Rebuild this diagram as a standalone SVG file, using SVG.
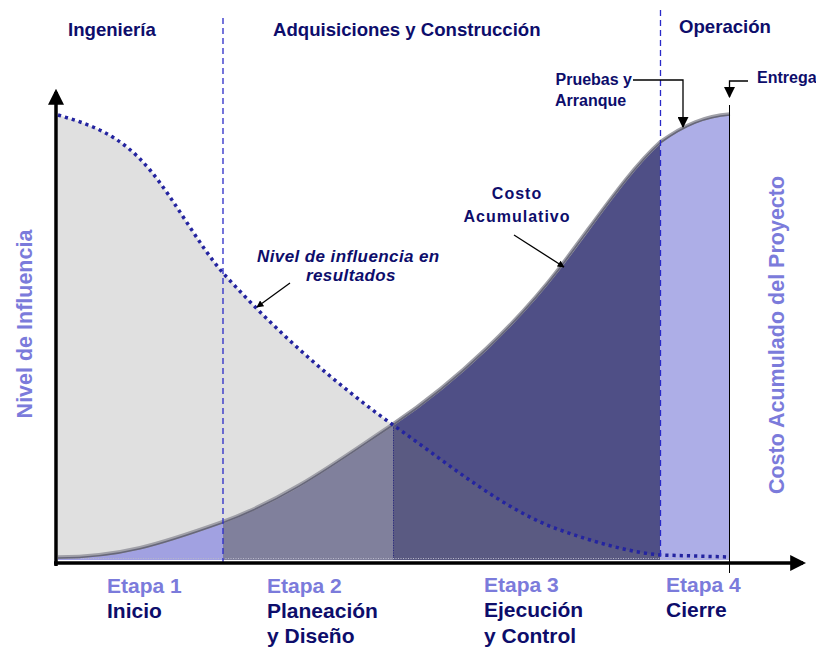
<svg xmlns="http://www.w3.org/2000/svg" width="816" height="650" viewBox="0 0 816 650">
<style>
.t{font-family:"Liberation Sans",Arial,sans-serif;font-weight:bold;fill:#0d0d6b}
.hd{font-size:18.6px}
.sm{font-size:16px}
.st{font-size:21px;fill:#7b7bdb}
.nm{font-size:21px}
.ax{font-size:21.5px;fill:#7b7bdb}
.dash{stroke:#2a2ac8;stroke-width:1.3;stroke-dasharray:6 4;fill:none}
.ln{stroke:#000;stroke-width:1.3;fill:none}
</style>
<defs>
<marker id="ah" viewBox="0 0 10 10" refX="9" refY="5" markerWidth="7" markerHeight="7" markerUnits="userSpaceOnUse" orient="auto"><path d="M0,0 L10,5 L0,10 Z" fill="#000"/></marker>
<marker id="ab" viewBox="0 0 10 10" refX="9" refY="5" markerWidth="11" markerHeight="11" markerUnits="userSpaceOnUse" orient="auto"><path d="M0,0 L10,5 L0,10 Z" fill="#000"/></marker>
<marker id="ax" viewBox="0 0 10 10" refX="8" refY="5" markerWidth="16" markerHeight="16" markerUnits="userSpaceOnUse" orient="auto"><path d="M0,0 L10,5 L0,10 Z" fill="#000"/></marker>
<clipPath id="c1"><rect x="56" y="0" width="167" height="562"/></clipPath>
<clipPath id="c2"><rect x="223" y="0" width="170" height="562"/></clipPath>
<clipPath id="c3"><rect x="393" y="0" width="267" height="562"/></clipPath>
<clipPath id="c4"><rect x="660" y="0" width="70" height="562"/></clipPath>
</defs>

<g id="areas">
<path d="M58,115 C88.7,124.2 119.3,133.2 150,170 C174.3,199.2 198.7,245 223,273 C279.7,335.4 336.3,384.2 393,425 C448.7,464 504.3,510.5 560,530 C593.3,541.7 626.7,551.7 660,555 L730,557 L730,560 L58,560 Z" fill="#e0e0e0"/>
<g id="costArea">
<path clip-path="url(#c1)" d="M58,558 C120,558 160,545 222,523 C290,498 340,460 393,425 C460,380 520,320 560,268 C600,215 630,170 660,143 C685,125 705,117 730,115 L730,560 L58,560 Z" fill="#a1a1e1"/>
<path clip-path="url(#c2)" d="M58,558 C120,558 160,545 222,523 C290,498 340,460 393,425 C460,380 520,320 560,268 C600,215 630,170 660,143 C685,125 705,117 730,115 L730,560 L58,560 Z" fill="#80809c"/>
<path clip-path="url(#c3)" d="M58,558 C120,558 160,545 222,523 C290,498 340,460 393,425 C460,380 520,320 560,268 C600,215 630,170 660,143 C685,125 705,117 730,115 L730,560 L58,560 Z" fill="#4f4f86"/>
<path clip-path="url(#c3)" d="M58,115 C88.7,124.2 119.3,133.2 150,170 C174.3,199.2 198.7,245 223,273 C279.7,335.4 336.3,384.2 393,425 C448.7,464 504.3,510.5 560,530 C593.3,541.7 626.7,551.7 660,555 L730,557 L730,560 L58,560 Z" fill="#5a5a82"/>
<path clip-path="url(#c4)" d="M58,558 C120,558 160,545 222,523 C290,498 340,460 393,425 C460,380 520,320 560,268 C600,215 630,170 660,143 C685,125 705,117 730,115 L730,560 L58,560 Z" fill="#adaee7"/>
</g>
<line x1="393.5" y1="425" x2="393.5" y2="560" stroke="#2a2a80" stroke-width="1" stroke-dasharray="1 1.5"/>
<line x1="58" y1="558.5" x2="730" y2="558.5" stroke="#b8b8c8" stroke-width="1" stroke-dasharray="1 1.5"/>
</g>

<g id="connectors">
<path d="M58,558 C120,558 160,545 222,523 C290,498 340,460 393,425 C460,380 520,320 560,268 C600,215 630,170 660,143 C685,125 705,117 730,115" fill="none" stroke="#a0a0a8" stroke-width="3.5" transform="translate(0,-1)"/>
<path d="M58,558 C120,558 160,545 222,523 C290,498 340,460 393,425 C460,380 520,320 560,268 C600,215 630,170 660,143 C685,125 705,117 730,115" fill="none" stroke="#66667a" stroke-width="1.6"/>
<path d="M58,115 C88.7,124.2 119.3,133.2 150,170 C174.3,199.2 198.7,245 223,273 C279.7,335.4 336.3,384.2 393,425 C448.7,464 504.3,510.5 560,530 C593.3,541.7 626.7,551.7 660,555 L730,557" fill="none" stroke="#2424a0" stroke-width="3.5" stroke-dasharray="3.2 4"/>
<line class="dash" x1="223" y1="18" x2="223" y2="568"/>
<line class="dash" x1="660.5" y1="10" x2="660.5" y2="560"/>
<line x1="729.5" y1="105" x2="729.5" y2="573" stroke="#000" stroke-width="1"/>
<line x1="56" y1="566" x2="56" y2="92" stroke="#000" stroke-width="3.5" marker-end="url(#ax)"/>
<line x1="54" y1="563" x2="803" y2="563" stroke="#000" stroke-width="3.5" marker-end="url(#ax)"/>
<polyline class="ln" points="633,80 683,80 683,127" marker-end="url(#ab)"/>
<polyline class="ln" points="748,81 729.5,81 729.5,97" marker-end="url(#ab)"/>
<line class="ln" x1="290" y1="283" x2="257" y2="307" marker-end="url(#ah)"/>
<line class="ln" x1="514" y1="235" x2="564" y2="267" marker-end="url(#ah)"/>
</g>

<g id="phase-ingenieria"><text class="t hd" x="68" y="36">Ingeniería</text></g>
<g id="phase-adquisiciones"><text class="t hd" x="273" y="36">Adquisiciones y Construcción</text></g>
<g id="phase-operacion"><text class="t hd" x="679" y="33">Operación</text></g>
<g id="label-pruebas"><text class="t sm" x="632" y="85" text-anchor="end">Pruebas y</text><text class="t sm" x="555" y="106">Arranque</text></g>
<g id="label-entrega"><text class="t sm" x="757" y="83">Entrega</text></g>
<g id="label-costo"><text class="t sm" x="517" y="199" text-anchor="middle" letter-spacing="1">Costo</text><text class="t sm" x="517" y="222" text-anchor="middle" letter-spacing="1">Acumulativo</text></g>
<g id="label-influencia"><text class="t" font-size="17" font-style="italic" x="257" y="262" letter-spacing="0.4">Nivel de influencia  en</text><text class="t" font-size="17" font-style="italic" x="306" y="281" letter-spacing="0.4">resultados</text></g>
<g id="axis-left"><text class="t ax" transform="translate(32,324) rotate(-90)" text-anchor="middle">Nivel de Influencia</text></g>
<g id="axis-right"><text class="t ax" transform="translate(784,335) rotate(-90)" text-anchor="middle">Costo Acumulado del Proyecto</text></g>
<g id="etapa1"><text class="t st" x="107" y="593">Etapa 1</text><text class="t nm" x="107" y="618">Inicio</text></g>
<g id="etapa2"><text class="t st" x="267" y="593">Etapa 2</text><text class="t nm" x="267" y="618">Planeación</text><text class="t nm" x="267" y="643">y Diseño</text></g>
<g id="etapa3"><text class="t st" x="484" y="592">Etapa 3</text><text class="t nm" x="484" y="617">Ejecución</text><text class="t nm" x="484" y="643">y Control</text></g>
<g id="etapa4"><text class="t st" x="666" y="592">Etapa 4</text><text class="t nm" x="666" y="617">Cierre</text></g>
</svg>
